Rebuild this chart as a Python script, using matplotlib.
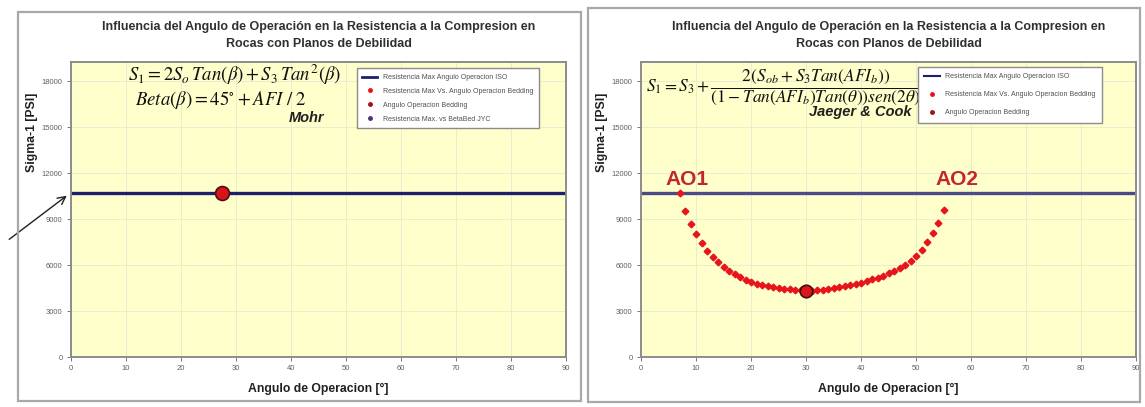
import matplotlib.pyplot as plt
from matplotlib.lines import Line2D
from matplotlib.patches import Rectangle

plt.rcParams['font.family'] = ['Liberation Sans', 'DejaVu Sans']

W, H = 1145, 407

# data
iso_angles = [0, 90]
iso_sigma1 = [10700, 10700]

mohr_angle = [27.5]
mohr_sigma1 = [10700]

jc_angles = list(range(7, 56))
jc_sigma1 = [10700, 9550, 8700, 8000, 7410, 6940, 6540, 6200, 5890, 5630,
             5390, 5200, 5040, 4890, 4780, 4700, 4610, 4540, 4500, 4460,
             4410, 4390, 4350, 4320, 4330, 4350, 4390, 4430, 4480, 4540,
             4610, 4670, 4760, 4850, 4960, 5070, 5170, 5300, 5460, 5610,
             5800, 6000, 6240, 6560, 6980, 7480, 8060, 8760, 9620]
jc_bed_angle = [30]
jc_bed_sigma1 = [4320]

x_ticks = list(range(0, 91, 10))
y_ticks = list(range(0, 18001, 3000))

title = ('Influencia del Angulo de Operación en la Resistencia a la Compresion en\n'
         'Rocas con Planos de Debilidad')
leg_iso = 'Resistencia Max Angulo Operacion ISO'
leg_bed = 'Resistencia Max Vs. Angulo Operacion Bedding'
leg_ang = 'Angulo Operacion Bedding'
leg_jyc = 'Resistencia Max. vs BetaBed JYC'

YELLOW = '#FFFFCC'
GRID = '#E8E8D0'
RED = '#E8141B'


def px_axes(fig, x0, x1, ytop, ybot):
    return fig.add_axes([x0 / W, 1 - ybot / H, (x1 - x0) / W, (ybot - ytop) / H])


def style_axes(ax):
    ax.set_facecolor(YELLOW)
    ax.set_xlim(0, 90)
    ax.set_ylim(0, 19250)
    ax.set_xticks(x_ticks)
    ax.set_yticks(y_ticks)
    ax.grid(True, color=GRID, lw=0.6)
    ax.set_axisbelow(True)
    for s in ax.spines.values():
        s.set_color('#8C8C8C')
        s.set_linewidth(1.4)
    ax.tick_params(labelsize=5.5, colors='#606060', length=3, width=0.6,
                   direction='out', pad=3)
    ax.set_xlabel('Angulo de Operacion [°]', fontsize=8.8, fontweight='bold',
                  color='#202020', labelpad=8)
    ax.set_ylabel('Sigma-1 [PSI]', fontsize=8.8, fontweight='bold', color='#202020')
    ax.yaxis.set_label_coords(-0.066, 0.76)
    ax.set_title(title, fontsize=9, fontweight='bold', color='#303030', pad=11,
                 linespacing=1.5)


fig = plt.figure(figsize=(W / 100, H / 100), dpi=100)

# panel frames
for x0, x1, y0, y1 in [(18, 581, 12, 401), (588, 1140, 8, 402)]:
    fig.patches.append(Rectangle((x0 / W, 1 - y1 / H), (x1 - x0) / W, (y1 - y0) / H,
                                 transform=fig.transFigure, fill=False,
                                 edgecolor='#A8A8A8', lw=1.6))

# ---- left: Mohr ----
ax1 = px_axes(fig, 71, 566, 62, 357)
style_axes(ax1)
ax1.plot(iso_angles, iso_sigma1, color='#1E1E6E', lw=2.4)
ax1.plot(mohr_angle, mohr_sigma1, 'o', ms=10, mfc='#D8141B', mec='#4A1010', mew=1.2)

h1 = [Line2D([], [], color='#1E1E6E', lw=2),
      Line2D([], [], ls='', marker='o', ms=2.5, color=RED),
      Line2D([], [], ls='', marker='o', ms=2.5, color='#A0101A'),
      Line2D([], [], ls='', marker='o', ms=2.5, color='#50307A')]
ax1.legend(h1, [leg_iso, leg_bed, leg_ang, leg_jyc], loc='upper left',
           bbox_to_anchor=(0.57, 0.99), fontsize=5, frameon=True, fancybox=False,
           edgecolor='#8C8C8C', framealpha=1, handlelength=2.2, labelspacing=1.0,
           borderpad=0.8, labelcolor='#505050')

ax1.text(0.115, 0.955, r'$S_1=2S_o\,Tan(\beta)+S_3\,Tan^2(\beta)$', transform=ax1.transAxes,
         fontsize=13.5, math_fontfamily='stix', va='center', color='#101010')
ax1.text(0.13, 0.87, r'$Beta(\beta)=45^{\circ}+AFI\ /\ 2$', transform=ax1.transAxes,
         fontsize=13.5, math_fontfamily='stix', va='center', color='#101010')
ax1.text(0.44, 0.81, 'Mohr', transform=ax1.transAxes, fontsize=10.5,
         fontweight='bold', style='italic', va='center', color='#202020')

ax1.annotate('', xy=(69 / W, 1 - 194 / H), xycoords='figure fraction',
             xytext=(7 / W, 1 - 241 / H), textcoords='figure fraction',
             arrowprops=dict(arrowstyle='->', color='#202020', lw=1.0,
                             mutation_scale=14))

# ---- right: Jaeger & Cook ----
ax2 = px_axes(fig, 641, 1136, 62, 357)
style_axes(ax2)
ax2.plot(iso_angles, iso_sigma1, color='#4A4A88', lw=2.4)
ax2.plot(jc_angles, jc_sigma1, 'D', ms=3.4, color=RED, mec=RED)
ax2.plot(jc_bed_angle, jc_bed_sigma1, 'o', ms=9, mfc='#E0141B', mec='#3A1010', mew=1.2)

h2 = [Line2D([], [], color='#1E1E6E', lw=1.5),
      Line2D([], [], ls='', marker='o', ms=2.5, color=RED),
      Line2D([], [], ls='', marker='o', ms=2.5, color='#A0101A')]
ax2.legend(h2, [leg_iso, leg_bed, leg_ang], loc='upper left',
           bbox_to_anchor=(0.553, 0.995), fontsize=5, frameon=True, fancybox=False,
           edgecolor='#8C8C8C', framealpha=1, handlelength=2.2, labelspacing=1.6,
           borderpad=0.9, labelcolor='#505050')

ax2.text(0.01, 0.915,
         r'$S_1=S_3+\dfrac{2(S_{ob}+S_3Tan(AFI_b))}{(1-Tan(AFI_b)Tan(\theta))sen(2\theta)}$',
         transform=ax2.transAxes, fontsize=12.5, math_fontfamily='stix', va='center',
         color='#101010')
ax2.text(0.547, 0.83, 'Jaeger & Cook', transform=ax2.transAxes, fontsize=10.5,
         fontweight='bold', style='italic', ha='right', va='center', color='#202020')

ax2.text(8.3, 11600, 'AO1', fontsize=15, fontweight='bold', color='#C0282D',
         ha='center', va='center')
ax2.text(57.5, 11600, 'AO2', fontsize=15, fontweight='bold', color='#C0282D',
         ha='center', va='center')

fig.savefig('out.png', dpi=100)
